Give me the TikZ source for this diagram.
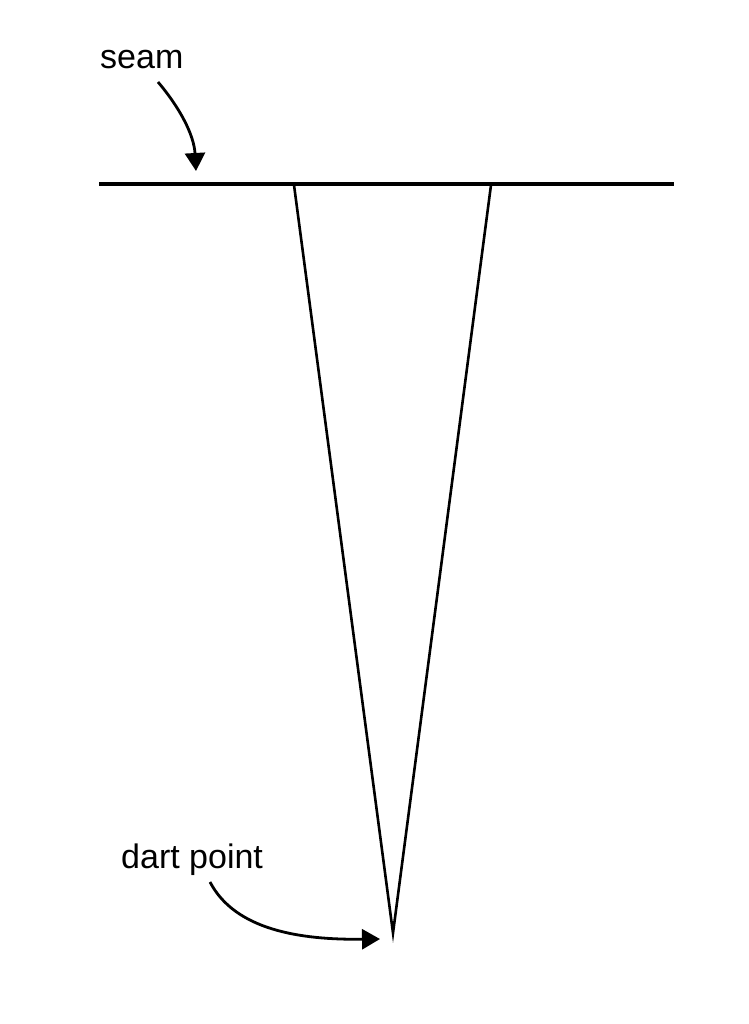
\documentclass[tikz,border=0pt]{standalone}
\usepackage{fontspec}
\setmainfont{Liberation Sans}
\usetikzlibrary{arrows.meta}
\begin{document}
\begin{tikzpicture}[x=1pt,y=-1pt,
  lbl/.style={font=\fontsize{34}{36}\selectfont, inner sep=0pt, anchor=base west},
  callout/.style={line width=2.8pt, -{Triangle[length=18pt,width=20pt]}},
  seamline/.style={line width=3.2pt},
  dartline/.style={line width=2.6pt, line join=miter}]
\useasboundingbox (0,0) rectangle (748,1024);
\fill[white] (0,0) rectangle (748,1024);
% seam
\coordinate (sL) at (99,184);
\coordinate (sR) at (674,184);
\draw[seamline] (sL) -- (sR);
% dart
\coordinate (dL) at (294,185);
\coordinate (dR) at (491,185);
\coordinate (tip) at (393,933);
\draw[dartline] (dL) -- (tip) -- (dR);
% labels
\node[lbl] (seam) at (100,69) {seam};
\node[lbl] (dart) at (121,868) {dart point};
\coordinate (seamarrow) at (196,171);
\coordinate (dartarrow) at (380,939);
\draw[callout] (158,82) .. controls (180,108) and (194,135) .. (seamarrow);
\draw[callout] (210,882) .. controls (235,930) and (300,940) .. (dartarrow);
\end{tikzpicture}
\end{document}
